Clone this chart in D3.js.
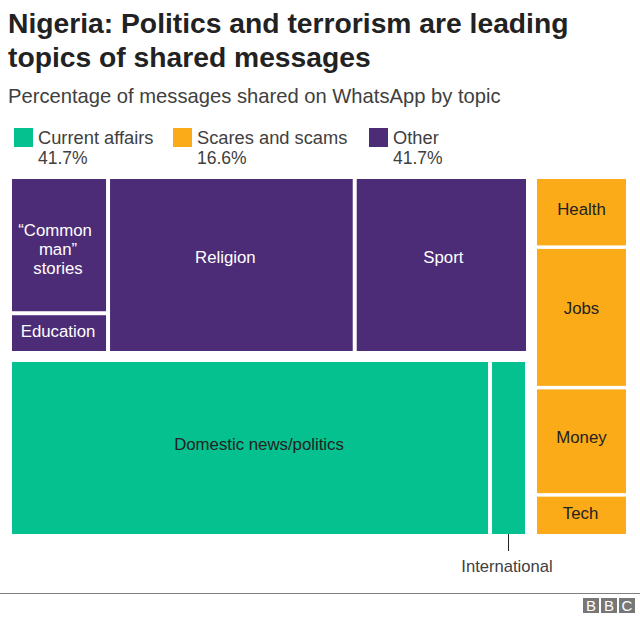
<!DOCTYPE html>
<html>
<head>
<meta charset="utf-8">
<script src="https://cdnjs.cloudflare.com/ajax/libs/d3/7.8.5/d3.min.js"></script>
<style>
body { margin: 0; background: #fff; }
text { font-family: "Liberation Sans", Arial, sans-serif; }
</style>
</head>
<body>
<script>
var width = 640,
    height = 623;

var titleLines = ["Nigeria: Politics and terrorism are leading", "topics of shared messages"];
var subtitle = "Percentage of messages shared on WhatsApp by topic";

var legendNames = ["Current affairs", "Scares and scams", "Other"];
var legendValues = ["41.7%", "16.6%", "41.7%"];

// the three groups add up to the legend shares
var otherColumns = ["Common", "Religion", "Sport"];
var otherColumnValues = [7.75, 20.0, 13.95];
var commonTopics = [["\u201cCommon", "man\u201d", "stories"], ["Education"]];
var commonValues = [6.1, 1.65];
var currentTopics = [["Domestic news/politics"], ["International"]];
var currentValues = [39.0, 2.7];
var scareTopics = [["Health"], ["Jobs"], ["Money"], ["Tech"]];
var scareValues = [3.2, 6.6, 5.0, 1.8];

var GREEN = "#05c08f", ORANGE = "#fbab18", PURPLE = "#4d2c77";

var svg = d3.select("body")
    .append("svg")
    .attr("width", width)
    .attr("height", height)
    .style("display", "block");

var title = svg.append("g");
titleLines.forEach(function(t, i) {
    title.append("text")
        .attr("x", 8).attr("y", 33 + i * 34)
        .attr("font-size", 28.25).attr("font-weight", "bold")
        .attr("fill", "#222").text(t);
});

svg.append("text")
    .attr("x", 8).attr("y", 103)
    .attr("font-size", 20.2).attr("fill", "#404040")
    .text(subtitle);

// legend
var legendX = [14, 173, 369];
var legendColors = [GREEN, ORANGE, PURPLE];
var legend = svg.selectAll(".legend")
    .data(legendNames)
    .enter().append("g")
    .attr("class", "legend")
    .attr("transform", function(d, i) { return "translate(" + legendX[i] + ",128)"; });
legend.append("rect")
    .attr("width", 19).attr("height", 19)
    .attr("fill", function(d, i) { return legendColors[i]; });
legend.append("text")
    .attr("x", 24).attr("y", 16)
    .attr("font-size", 18.3).attr("fill", "#404040")
    .text(function(d) { return d; });
legend.append("text")
    .attr("x", 24).attr("y", 36)
    .attr("font-size", 17.5).attr("fill", "#404040")
    .text(function(d, i) { return legendValues[i]; });

// lays values end to end on a scale, leaving a gap between each piece
function strip(values, start, end, gap) {
    var total = d3.sum(values);
    var scale = d3.scaleLinear()
        .domain([0, total])
        .range([start, end - gap * (values.length - 1)]);
    var run = 0;
    return values.map(function(v, i) {
        var a = scale(run) + i * gap;
        run += v;
        return [a, scale(run) + i * gap];
    });
}

// dx, dy: the labels in the original are hand placed, not centred in the cell
var cells = [];
var otherX = strip(otherColumnValues, 12, 526, 4);
var commonY = strip(commonValues, 179, 351, 4);
var commonNudge = [[-1, 4], [-1, -2]];
commonTopics.forEach(function(lines, i) {
    cells.push({lines: lines, x: otherX[0], y: commonY[i], color: PURPLE, fill: "#fff", dx: commonNudge[i][0], dy: commonNudge[i][1]});
});
var otherNudge = [null, [-6, -8], [2, -8]];
[1, 2].forEach(function(i) {
    cells.push({lines: [otherColumns[i]], x: otherX[i], y: [179, 351], color: PURPLE, fill: "#fff", dx: otherNudge[i][0], dy: otherNudge[i][1]});
});
var currentX = strip(currentValues, 12, 525, 4);
currentTopics.forEach(function(lines, i) {
    cells.push({lines: i == 1 ? [] : lines, x: currentX[i], y: [362, 534], color: GREEN, fill: "#222", dx: 9, dy: -4});
});
var scareY = strip(scareValues, 179, 534, 3.5);
var scareNudge = [[0, -3], [0, -9], [0, -4], [-1, -2]];
scareTopics.forEach(function(lines, i) {
    cells.push({lines: lines, x: [537, 626], y: scareY[i], color: ORANGE, fill: "#222", dx: scareNudge[i][0], dy: scareNudge[i][1]});
});

var cell = svg.selectAll(".cell")
    .data(cells)
    .enter().append("g")
    .attr("class", "cell");
cell.append("rect")
    .attr("x", function(d) { return d.x[0]; })
    .attr("y", function(d) { return d.y[0]; })
    .attr("width", function(d) { return d.x[1] - d.x[0]; })
    .attr("height", function(d) { return d.y[1] - d.y[0]; })
    .attr("fill", function(d) { return d.color; });
cell.each(function(d) {
    var cx = (d.x[0] + d.x[1]) / 2 + d.dx,
        cy = (d.y[0] + d.y[1]) / 2 + d.dy,
        lineH = 19;
    d3.select(this).selectAll("text")
        .data(d.lines)
        .enter().append("text")
        // the opening quote hangs left in the original
        .attr("x", function(t) { return t.charAt(0) == "\u201c" ? cx - 3 : cx; })
        .attr("y", function(t, i) { return cy + 6 + (i - (d.lines.length - 1) / 2) * lineH; })
        .attr("text-anchor", "middle")
        .attr("font-size", 16.8)
        .attr("fill", d.fill)
        .text(function(t) { return t; });
});

// label for the thin International cell
var intlX = (currentX[1][0] + currentX[1][1]) / 2;
svg.append("line")
    .attr("x1", intlX).attr("x2", intlX)
    .attr("y1", 534).attr("y2", 551)
    .attr("stroke", "#222").attr("stroke-width", 1);
svg.append("text")
    .attr("x", intlX - 1.5).attr("y", 572)
    .attr("text-anchor", "middle")
    .attr("font-size", 16.6).attr("fill", "#404040")
    .text(currentTopics[1][0]);

// footer
svg.append("line")
    .attr("x1", 0).attr("x2", width)
    .attr("y1", 593.5).attr("y2", 593.5)
    .attr("stroke", "#808080").attr("stroke-width", 1);

var logo = svg.selectAll(".logo")
    .data(["B", "B", "C"])
    .enter().append("g")
    .attr("class", "logo")
    .attr("transform", function(d, i) { return "translate(" + (583 + i * 18) + ",598)"; });
logo.append("rect")
    .attr("width", 16).attr("height", 15)
    .attr("fill", "#777");
logo.append("text")
    .attr("x", 8).attr("y", 13)
    .attr("text-anchor", "middle")
    .attr("font-size", 15)
    .attr("fill", "#fff")
    .text(function(d) { return d; });
</script>
</body>
</html>
